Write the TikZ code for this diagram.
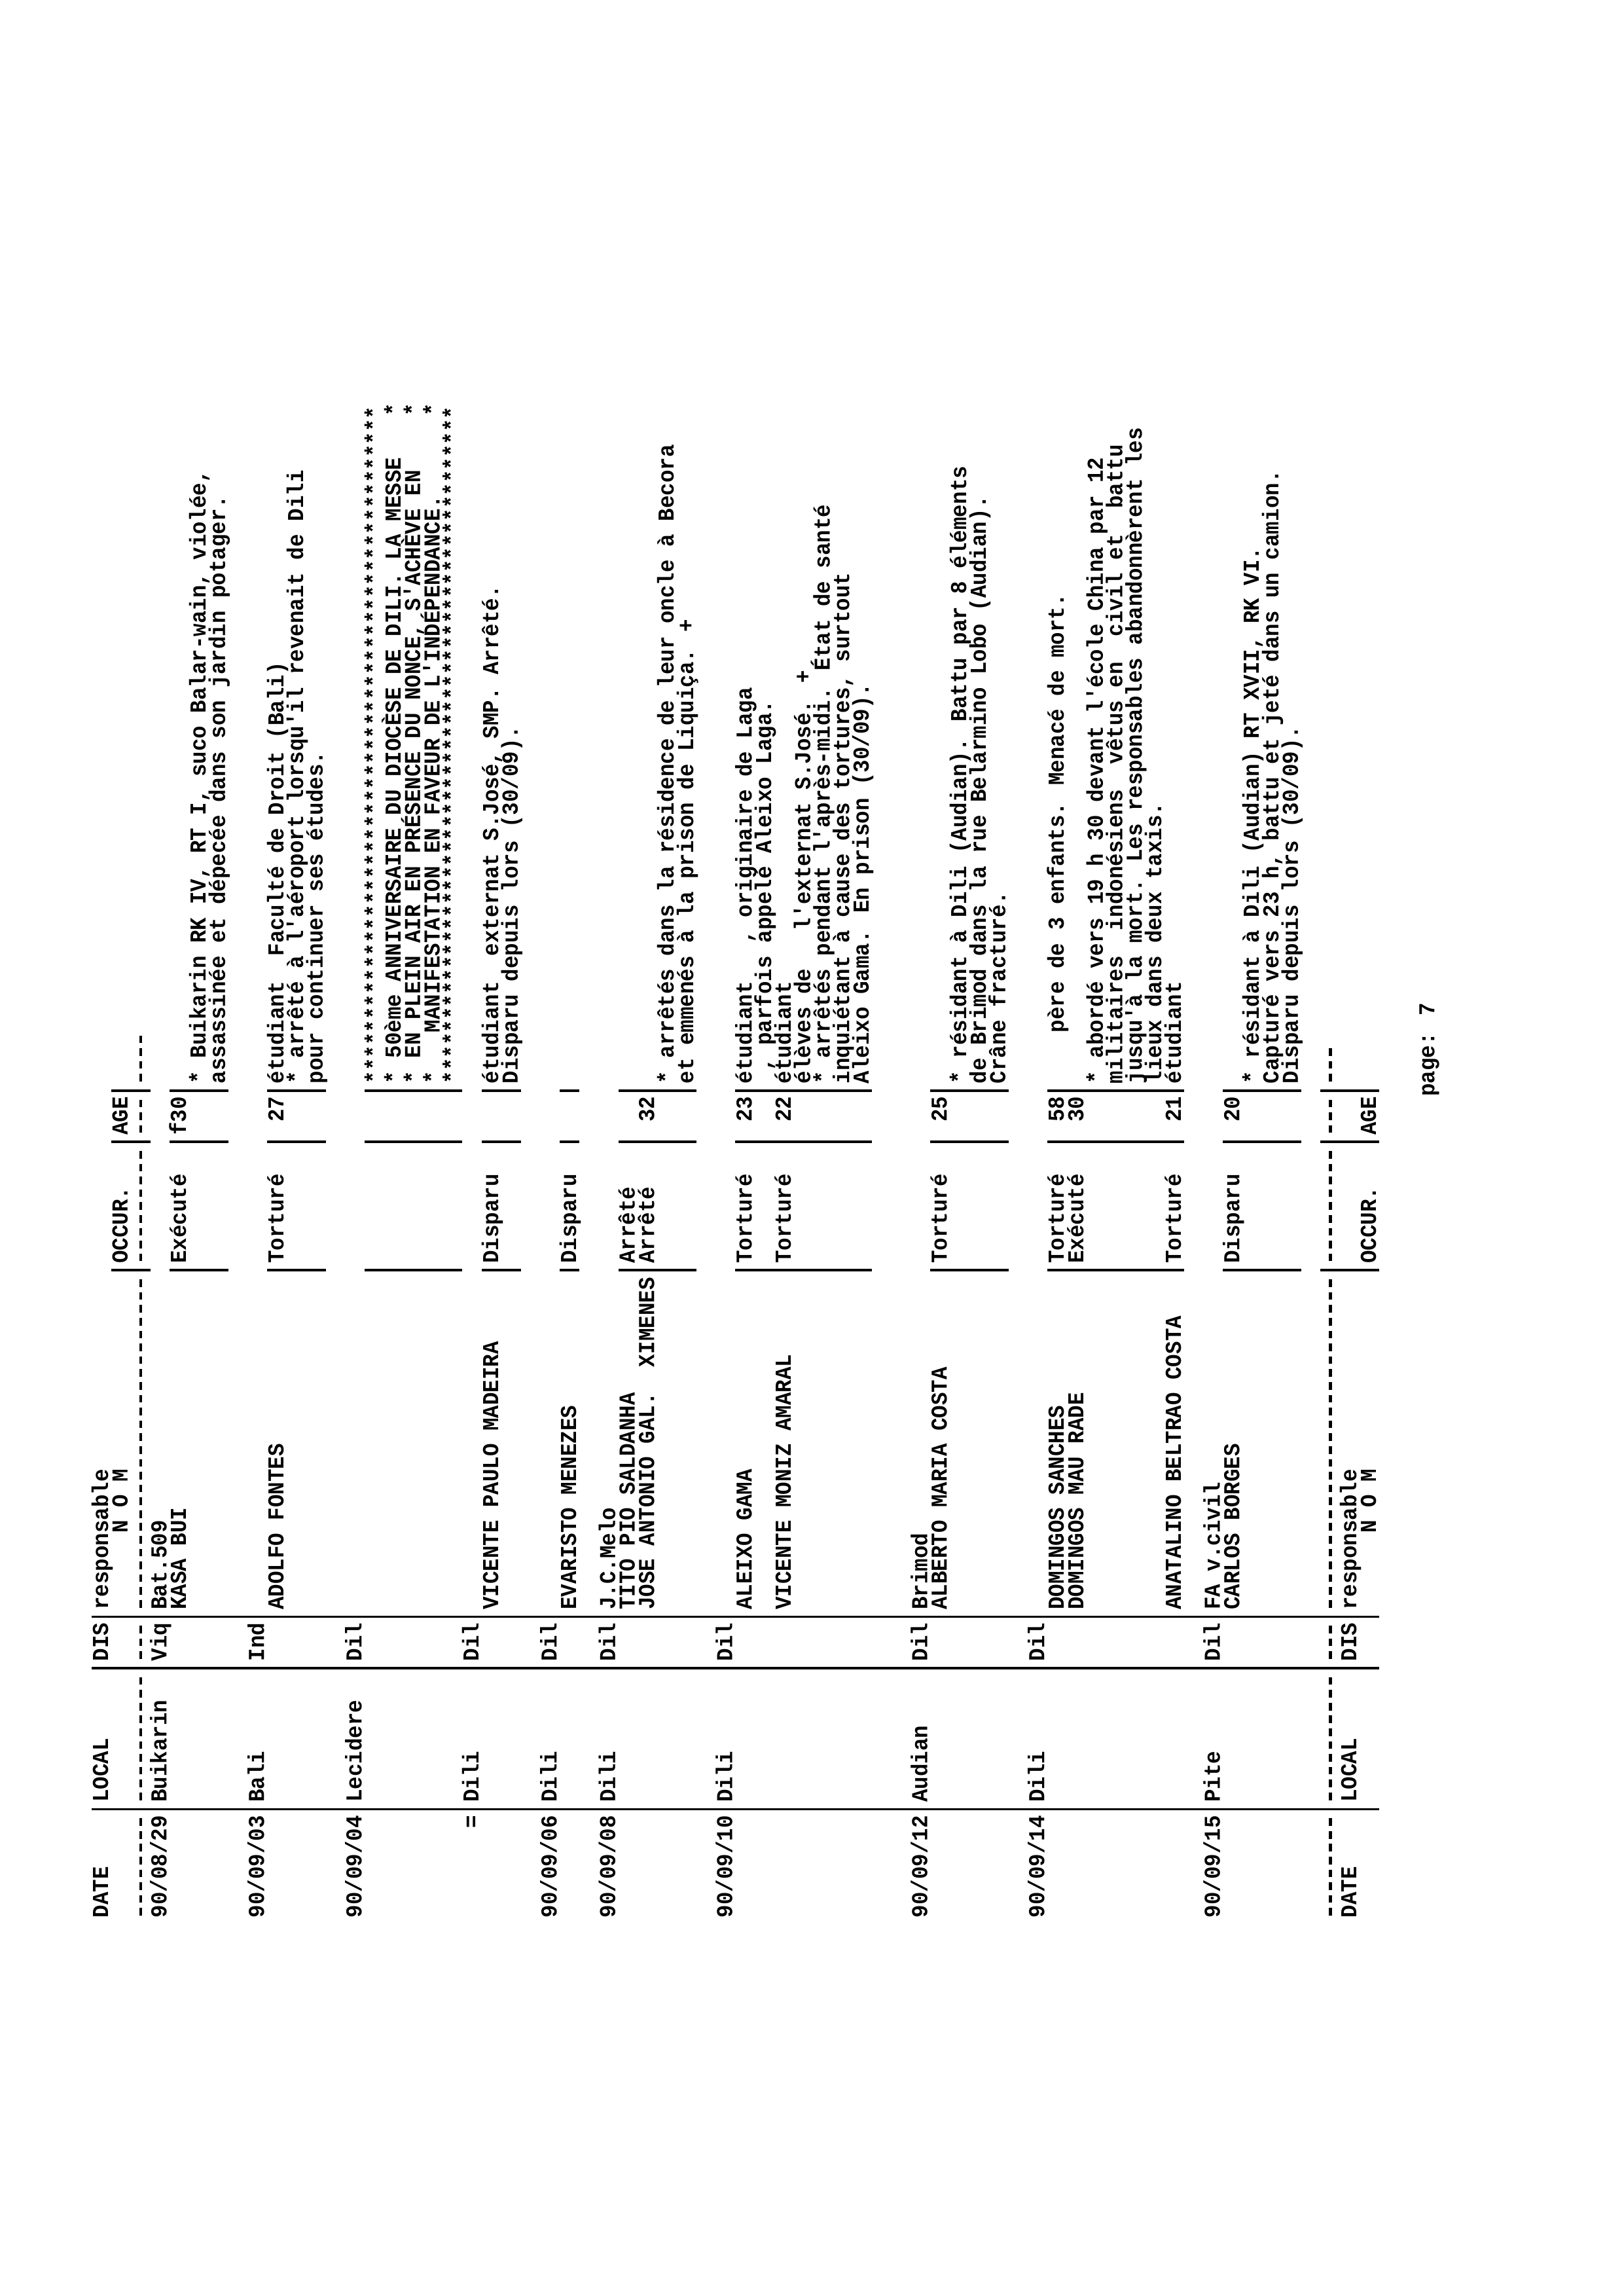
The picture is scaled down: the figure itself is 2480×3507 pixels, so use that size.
\documentclass[tikz,border=0pt]{standalone}
\usepackage{fontspec}
\newfontfamily\prtfont[FakeStretch=0.933]{Liberation Mono}
\usetikzlibrary{positioning}

% one printed line: line number, character column, text
\newcommand\rowtxt[3]{\node[prt] at ({165+#1*29.8},{2930-#2*19.6}) {#3};}
% column rule (printed |) from line #2 to line #3
\newcommand\vbar[3]{\draw[rule] ({155+#2*29.8-15},{2930-(#1+0.5)*19.6}) -- ({155+#3*29.8+15},{2930-(#1+0.5)*19.6});}
% row of dashes on line #1 from column #2 to column #3
\newcommand\dsh[3]{\draw[dashrow] ({155+#1*29.8},{2930-#2*19.6-4}) -- ({155+#1*29.8},{2930-(#3+1)*19.6});}
% bars of OCCUR., AGE and the text column
\newcommand\recbars[2]{\vbar{50}{#1}{#2}\vbar{60}{#1}{#2}\vbar{64}{#1}{#2}}

\begin{document}
\begin{tikzpicture}[
        x=0.0084677cm, y=-0.0084677cm,
        prt/.style={rotate=90, anchor=base west, inner sep=0pt,
            font=\prtfont\bfseries\fontsize{8.4}{9}\selectfont},
        rule/.style={line width=0.84pt},
        dashrow/.style={line width=1pt, dash pattern=on 2.8pt off 1.92pt}
    ]
    \useasboundingbox[fill=white] (0,0) rectangle (2480,3507);

    % header
    \rowtxt{0}{0}{DATE}
    \rowtxt{0}{9}{LOCAL}
    \rowtxt{0}{20}{DIS}
    \rowtxt{0}{24}{responsable}
    \rowtxt{1}{30}{N O M}
    \rowtxt{1}{51}{OCCUR.}
    \rowtxt{1}{61}{AGE}
    \dsh{2}{0}{7} \dsh{2}{9}{18} \dsh{2}{20}{22} \dsh{2}{24}{49}
    \dsh{2}{51}{59} \dsh{2}{61}{63} \dsh{2}{65}{68}
    \vbar{8}{0}{65} \vbar{19}{0}{65} \vbar{23}{0}{65}
    \recbars{1}{2}

    % 90/08/29
    \rowtxt{3}{0}{90/08/29} \rowtxt{3}{9}{Buikarin} \rowtxt{3}{20}{Viq}
    \rowtxt{3}{24}{Bat.509}
    \rowtxt{4}{24}{KASA BUI} \rowtxt{4}{51}{Exécuté} \rowtxt{4}{61}{f30}
    \rowtxt{5}{65}{* Buikarin RK IV, RT I, suco Balar-wain, violée,}
    \rowtxt{6}{65}{assassinée et dépecée dans son jardin potager.}
    \recbars{4}{6}

    % 90/09/03
    \rowtxt{8}{0}{90/09/03} \rowtxt{8}{9}{Bali} \rowtxt{8}{20}{Ind}
    \rowtxt{9}{24}{ADOLFO FONTES} \rowtxt{9}{51}{Torturé} \rowtxt{9}{62}{27}
    \rowtxt{9}{65}{étudiant~~Faculté de Droit (Bali)}
    \rowtxt{10}{65}{* arrêté à l'aéroport lorsqu'il revenait de Dili}
    \rowtxt{11}{65}{pour continuer ses études.}
    \recbars{9}{11}

    % 90/09/04
    \rowtxt{13}{0}{90/09/04} \rowtxt{13}{9}{Lecidere} \rowtxt{13}{20}{Dil}
    \rowtxt{14}{65}{*****************************************************}
    \rowtxt{15}{65}{* 50ème ANNIVERSAIRE DU DIOCÈSE DE DILI. LA MESSE}
    \rowtxt{16}{65}{* EN PLEIN AIR EN PRÉSENCE DU NONCE, S'ACHÈVE EN}
    \rowtxt{17}{65}{*~~~MANIFESTATION EN FAVEUR DE L'INDÉPENDANCE.}
    \rowtxt{15}{117}{*} \rowtxt{16}{117}{*} \rowtxt{17}{117}{*}
    \rowtxt{18}{65}{*****************************************************}
    \recbars{14}{18}
    \rowtxt{19}{7}{=} \rowtxt{19}{9}{Dili} \rowtxt{19}{20}{Dil}
    \rowtxt{20}{24}{VICENTE PAULO MADEIRA} \rowtxt{20}{51}{Disparu}
    \rowtxt{20}{65}{étudiant~~externat S.José, SMP. Arrêté.}
    \rowtxt{21}{65}{Disparu depuis lors (30/09).}
    \recbars{20}{21}

    % 90/09/06
    \rowtxt{23}{0}{90/09/06} \rowtxt{23}{9}{Dili} \rowtxt{23}{20}{Dil}
    \rowtxt{24}{24}{EVARISTO MENEZES} \rowtxt{24}{51}{Disparu}
    \recbars{24}{24}

    % 90/09/08
    \rowtxt{26}{0}{90/09/08} \rowtxt{26}{9}{Dili} \rowtxt{26}{20}{Dil}
    \rowtxt{26}{24}{J.C.Melo}
    \rowtxt{27}{24}{TITO PIO SALDANHA} \rowtxt{27}{51}{Arrêté}
    \rowtxt{28}{24}{JOSE ANTONIO GAL.~~XIMENES} \rowtxt{28}{51}{Arrêté}
    \rowtxt{28}{62}{32}
    \rowtxt{29}{65}{* arrêtés dans la résidence de leur oncle à Becora}
    \rowtxt{30}{65}{et emmenés à la prison de Liquiça. +}
    \recbars{27}{30}

    % 90/09/10
    \rowtxt{32}{0}{90/09/10} \rowtxt{32}{9}{Dili} \rowtxt{32}{20}{Dil}
    \rowtxt{33}{24}{ALEIXO GAMA} \rowtxt{33}{51}{Torturé} \rowtxt{33}{62}{23}
    \rowtxt{33}{65}{étudiant~~~, originaire de Laga}
    \rowtxt{34}{65}{~, parfois appelé Aleixo Laga.}
    \rowtxt{35}{24}{VICENTE MONIZ AMARAL} \rowtxt{35}{51}{Torturé} \rowtxt{35}{62}{22}
    \rowtxt{35}{65}{étudiant}
    \rowtxt{36}{65}{élèves de~~~l'externat S.José. +}
    \rowtxt{37}{65}{* arrêtés pendant l'après-midi. État de santé}
    \rowtxt{38}{65}{inquiétant à cause des tortures, surtout}
    \rowtxt{39}{65}{Aleixo Gama. En prison (30/09).}
    \recbars{33}{39}

    % 90/09/12
    \rowtxt{42}{0}{90/09/12} \rowtxt{42}{9}{Audian} \rowtxt{42}{20}{Dil}
    \rowtxt{42}{24}{Brimod}
    \rowtxt{43}{24}{ALBERTO MARIA COSTA} \rowtxt{43}{51}{Torturé} \rowtxt{43}{62}{25}
    \rowtxt{44}{65}{* résidant à Dili (Audian). Battu par 8 éléments}
    \rowtxt{45}{65}{de Brimod dans la rue Belarmino Lobo (Audian).}
    \rowtxt{46}{65}{Crâne fracturé.}
    \recbars{43}{46}

    % 90/09/14
    \rowtxt{48}{0}{90/09/14} \rowtxt{48}{9}{Dili} \rowtxt{48}{20}{Dil}
    \rowtxt{49}{24}{DOMINGOS SANCHES} \rowtxt{49}{51}{Torturé} \rowtxt{49}{62}{58}
    \rowtxt{49}{65}{~~~~père de 3 enfants. Menacé de mort.}
    \rowtxt{50}{24}{DOMINGOS MAU RADE} \rowtxt{50}{51}{Exécuté} \rowtxt{50}{62}{30}
    \rowtxt{51}{65}{* abordé vers 19 h 30 devant l'école China par 12}
    \rowtxt{52}{65}{militaires~~indonésiens~~vêtus en~~civil et~~battu}
    \rowtxt{53}{65}{jusqu'à la mort. Les responsables abandonnèrent les}
    \rowtxt{54}{65}{lieux dans deux taxis.}
    \rowtxt{55}{24}{ANATALINO BELTRAO COSTA} \rowtxt{55}{51}{Torturé} \rowtxt{55}{62}{21}
    \rowtxt{55}{65}{étudiant}
    \recbars{49}{55}

    % 90/09/15
    \rowtxt{57}{0}{90/09/15} \rowtxt{57}{9}{Pite} \rowtxt{57}{20}{Dil}
    \rowtxt{57}{24}{FA v.civil}
    \rowtxt{58}{24}{CARLOS BORGES} \rowtxt{58}{51}{Disparu} \rowtxt{58}{62}{20}
    \rowtxt{59}{65}{* résidant à Dili (Audian) RT XVII, RK VI.}
    \rowtxt{60}{65}{Capturé vers 23 h, battu et jeté dans un camion.}
    \rowtxt{61}{65}{Disparu depuis lors (30/09).}
    \recbars{58}{61}

    % footer
    \dsh{63}{0}{7} \dsh{63}{9}{18} \dsh{63}{20}{22} \dsh{63}{24}{49}
    \dsh{63}{51}{59} \dsh{63}{61}{63} \dsh{63}{65}{67}
    \recbars{63}{65}
    \rowtxt{64}{0}{DATE}
    \rowtxt{64}{9}{LOCAL}
    \rowtxt{64}{20}{DIS}
    \rowtxt{64}{24}{responsable}
    \rowtxt{65}{30}{N O M}
    \rowtxt{65}{51}{OCCUR.}
    \rowtxt{65}{61}{AGE}
    \rowtxt{68}{64}{page: 7}
\end{tikzpicture}
\end{document}
